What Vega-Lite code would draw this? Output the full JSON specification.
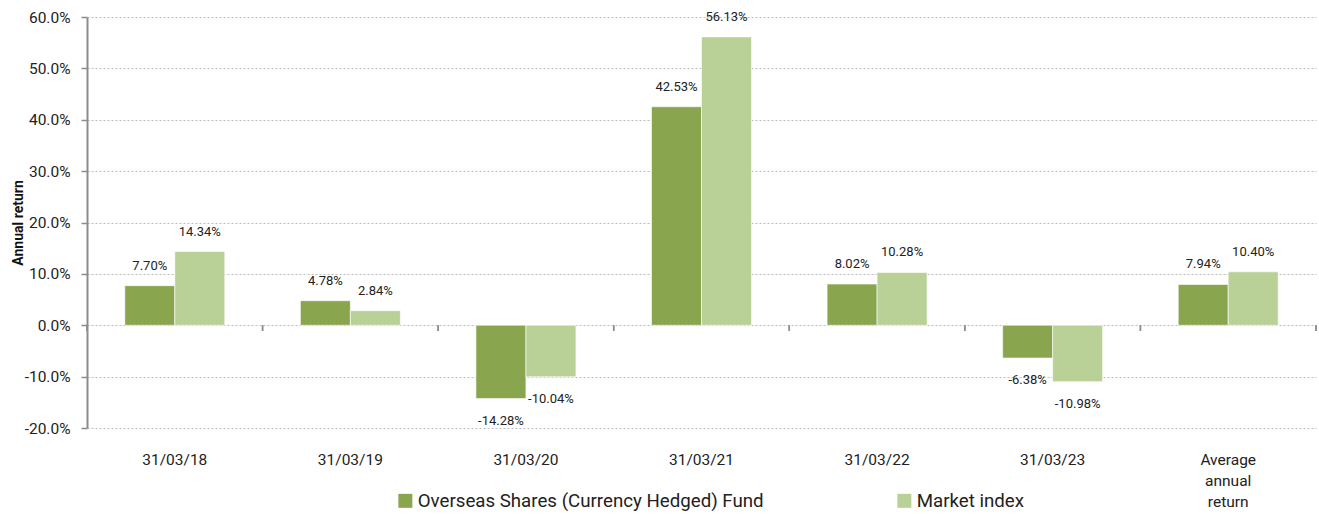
{
  "$schema": "https://vega.github.io/schema/vega-lite/v6.json",
  "width": 1229,
  "height": 411,
  "padding": {"left": 87, "top": 17, "right": 3, "bottom": 86},
  "autosize": {"type": "none"},
  "background": "white",
  "config": {
    "view": {"stroke": null},
    "font": "Roboto"
  },
  "data": {
    "values": [
      {"category": "31/03/18", "series": "Overseas Shares (Currency Hedged) Fund", "value": 7.70},
      {"category": "31/03/18", "series": "Market index", "value": 14.34},
      {"category": "31/03/19", "series": "Overseas Shares (Currency Hedged) Fund", "value": 4.78},
      {"category": "31/03/19", "series": "Market index", "value": 2.84},
      {"category": "31/03/20", "series": "Overseas Shares (Currency Hedged) Fund", "value": -14.28},
      {"category": "31/03/20", "series": "Market index", "value": -10.04},
      {"category": "31/03/21", "series": "Overseas Shares (Currency Hedged) Fund", "value": 42.53},
      {"category": "31/03/21", "series": "Market index", "value": 56.13},
      {"category": "31/03/22", "series": "Overseas Shares (Currency Hedged) Fund", "value": 8.02},
      {"category": "31/03/22", "series": "Market index", "value": 10.28},
      {"category": "31/03/23", "series": "Overseas Shares (Currency Hedged) Fund", "value": -6.38},
      {"category": "31/03/23", "series": "Market index", "value": -10.98},
      {"category": "Average annual return", "series": "Overseas Shares (Currency Hedged) Fund", "value": 7.94},
      {"category": "Average annual return", "series": "Market index", "value": 10.40}
    ]
  },
  "encoding": {
    "x": {
      "field": "category",
      "type": "nominal",
      "sort": null,
      "scale": {"paddingInner": 0, "paddingOuter": 0},
      "axis": {
        "title": null,
        "domain": false,
        "ticks": false,
        "labelAngle": 0,
        "labelFontSize": 15.5,
        "labelColor": "#222222",
        "labelPadding": 24,
        "labelBaseline": "top",
        "labelLineHeight": 21,
        "labelExpr": "datum.value == 'Average annual return' ? ['Average', 'annual', 'return'] : datum.value"
      }
    }
  },
  "layer": [
    {
      "mark": {"type": "bar", "stroke": "white", "strokeWidth": 0.6},
      "encoding": {
        "y": {
          "field": "value",
          "type": "quantitative",
          "scale": {"domain": [-20, 60], "nice": false, "zero": false},
          "axis": {
            "title": "Annual return",
            "titleFontSize": 14,
            "titleFontWeight": "bold",
            "titleColor": "#111111",
            "titlePadding": -1,
            "values": [-20, -10, 0, 10, 20, 30, 40, 50, 60],
            "labelExpr": "(datum.value < 0 ? '-' : '') + format(abs(datum.value), '.1f') + '%'",
            "labelFontSize": 15.5,
            "labelColor": "#222222",
            "labelPadding": 11,
            "domainColor": "#8c8c8c",
            "domainWidth": 2,
            "tickColor": "#8c8c8c",
            "tickWidth": 1.5,
            "tickSize": 6,
            "grid": true,
            "gridColor": "#bdbdbd",
            "gridDash": [2, 2],
            "gridWidth": 1
          }
        },
        "xOffset": {
          "field": "series",
          "type": "nominal",
          "sort": ["Overseas Shares (Currency Hedged) Fund", "Market index"],
          "scale": {"paddingInner": 0, "paddingOuter": 0.756}
        },
        "color": {
          "field": "series",
          "type": "nominal",
          "sort": ["Overseas Shares (Currency Hedged) Fund", "Market index"],
          "scale": {
            "domain": ["Overseas Shares (Currency Hedged) Fund", "Market index"],
            "range": ["#89a54e", "#b9d097"]
          },
          "legend": {
            "title": null,
            "orient": "none",
            "direction": "horizontal",
            "legendX": 309,
            "legendY": 474,
            "symbolType": "square",
            "symbolSize": 196,
            "symbolStrokeWidth": 0,
            "labelFontSize": 18.7,
            "labelLimit": 0,
            "labelColor": "#222222",
            "labelOffset": 3,
            "columnPadding": 131
          }
        }
      }
    },
    {
      "mark": {"type": "rule", "color": "#8c8c8c", "strokeWidth": 2},
      "encoding": {"y": {"datum": 0}}
    },
    {
      "mark": {"type": "rule", "color": "#8c8c8c", "strokeWidth": 1.5},
      "encoding": {
        "x": {"field": "category", "type": "nominal", "sort": null, "bandPosition": 0},
        "y": {"datum": 0},
        "y2": {"datum": -1.1}
      }
    },
    {
      "transform": [{"filter": "datum.category == 'Average annual return'"}],
      "mark": {"type": "rule", "color": "#8c8c8c", "strokeWidth": 1.5},
      "encoding": {
        "x": {"field": "category", "type": "nominal", "sort": null, "bandPosition": 1},
        "y": {"datum": 0},
        "y2": {"datum": -1.1}
      }
    },
    {
      "transform": [
        {"filter": "datum.value >= 0"},
        {"calculate": "format(datum.value, '.2f') + '%'", "as": "label"}
      ],
      "mark": {"type": "text", "fontSize": 13, "color": "#222222", "baseline": "middle", "dy": -20},
      "encoding": {
        "y": {"field": "value", "type": "quantitative"},
        "xOffset": {
          "field": "series",
          "type": "nominal",
          "sort": ["Overseas Shares (Currency Hedged) Fund", "Market index"]
        },
        "text": {"field": "label", "type": "nominal"},
        "color": {"value": "#222222"}
      }
    },
    {
      "transform": [
        {"filter": "datum.value < 0"},
        {"calculate": "'-' + format(abs(datum.value), '.2f') + '%'", "as": "label"}
      ],
      "mark": {"type": "text", "fontSize": 13, "color": "#222222", "baseline": "middle", "dy": 22},
      "encoding": {
        "y": {"field": "value", "type": "quantitative"},
        "xOffset": {
          "field": "series",
          "type": "nominal",
          "sort": ["Overseas Shares (Currency Hedged) Fund", "Market index"]
        },
        "text": {"field": "label", "type": "nominal"},
        "color": {"value": "#222222"}
      }
    }
  ]
}
